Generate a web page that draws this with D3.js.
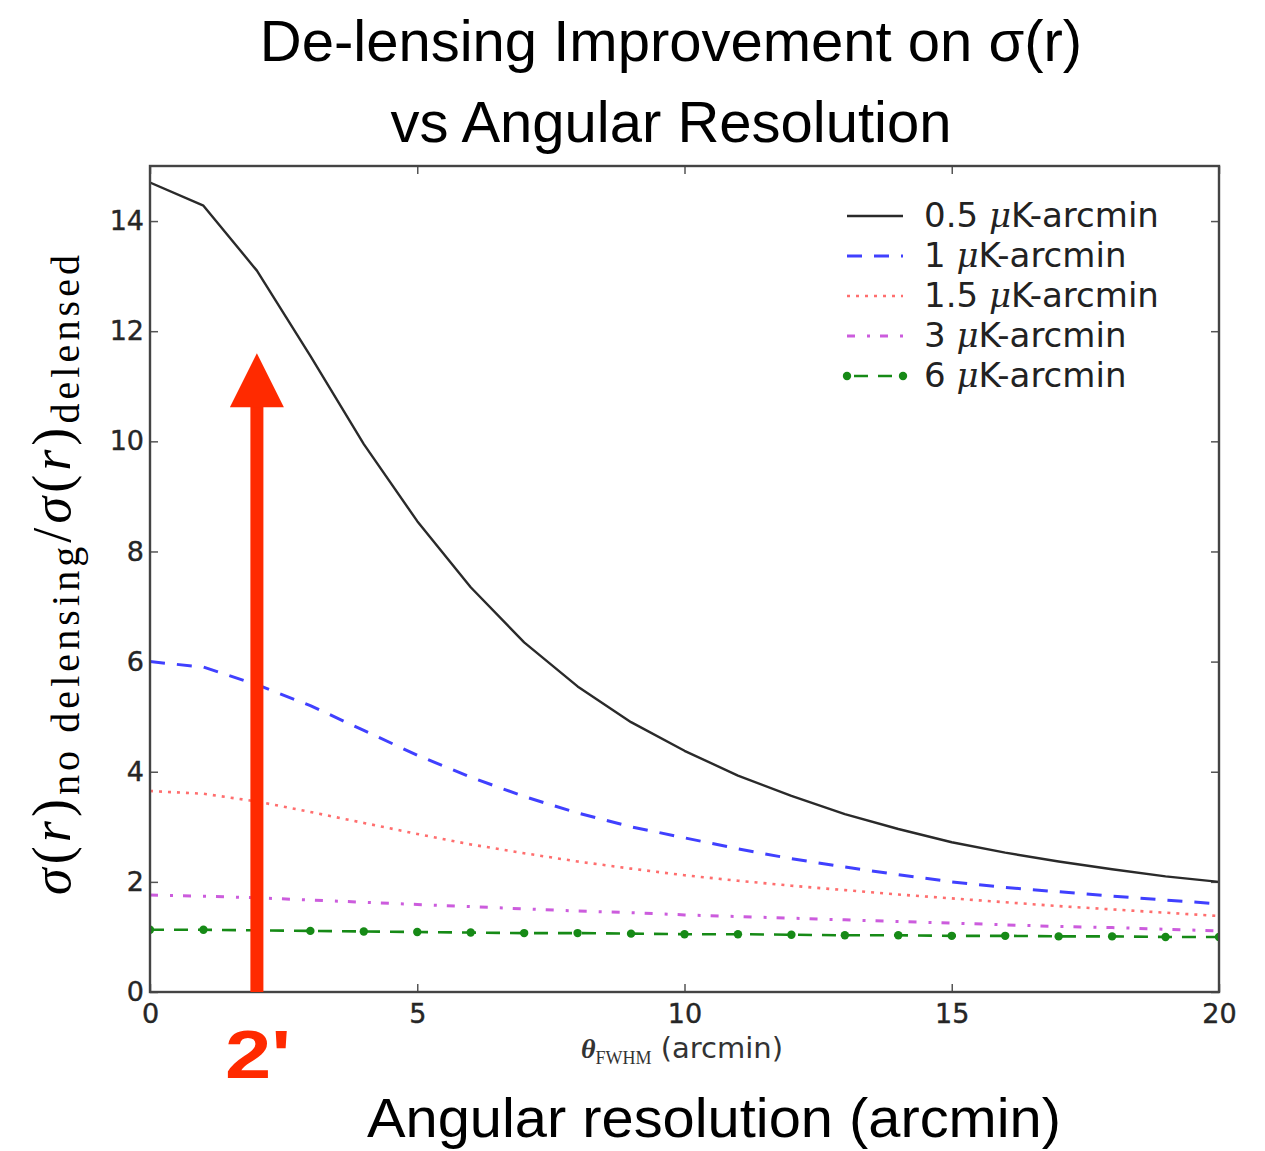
<!DOCTYPE html>
<html>
<head>
<meta charset="utf-8">
<script src="https://cdn.jsdelivr.net/npm/d3@7"></script>
<style>
  html, body { margin: 0; padding: 0; background: #fff; }
  svg { display: block; }
</style>
</head>
<body>
<svg id="chart" width="1265" height="1151"></svg>
<script>
// Beam FWHM in arcmin (x values)
const fwhm = [0, 1, 2, 3, 4, 5, 6, 7, 8, 9, 10, 11, 12, 13, 14, 15, 16, 17, 18, 19, 20];

// sigma(r) improvement factor for each noise level
const noise05 = [14.7, 14.28, 13.1, 11.55, 9.95, 8.55, 7.35, 6.35, 5.55, 4.9, 4.38, 3.93, 3.56, 3.23, 2.96, 2.72, 2.53, 2.37, 2.23, 2.1, 2.0];
const noise1  = [6.0, 5.9, 5.58, 5.2, 4.75, 4.3, 3.9, 3.55, 3.25, 3.0, 2.8, 2.6, 2.42, 2.27, 2.13, 2.0, 1.9, 1.82, 1.74, 1.67, 1.6];
const noise15 = [3.65, 3.6, 3.46, 3.27, 3.07, 2.87, 2.68, 2.52, 2.37, 2.24, 2.12, 2.02, 1.93, 1.85, 1.77, 1.7, 1.63, 1.56, 1.5, 1.44, 1.38];
const noise3  = [1.76, 1.74, 1.71, 1.67, 1.63, 1.59, 1.55, 1.51, 1.47, 1.44, 1.4, 1.37, 1.34, 1.31, 1.28, 1.25, 1.22, 1.19, 1.17, 1.14, 1.11];
const noise6  = [1.13, 1.13, 1.12, 1.11, 1.1, 1.09, 1.08, 1.07, 1.07, 1.06, 1.05, 1.05, 1.04, 1.03, 1.03, 1.02, 1.02, 1.01, 1.01, 1.0, 1.0];

const seriesLabels = ["0.5", "1", "1.5", "3", "6"];
const xTicks = [0, 5, 10, 15, 20];
const yTicks = [0, 2, 4, 6, 8, 10, 12, 14];

// highlighted beam size
const markedFwhm = 2;
const markedLevel = 11.6;

const series = [
  { label: seriesLabels[0], values: noise05, color: "#2a2a2a", width: 2.4, dash: null },
  { label: seriesLabels[1], values: noise1,  color: "#4040ff", width: 3,   dash: "15,12" },
  { label: seriesLabels[2], values: noise15, color: "#ff6e6e", width: 2.6, dash: "3,6" },
  { label: seriesLabels[3], values: noise3,  color: "#cc5cdd", width: 3,   dash: "8,12,3,10" },
  { label: seriesLabels[4], values: noise6,  color: "#168a16", width: 2.6, dash: "14,10", markers: true }
];

const svg = d3.select("#chart");
svg.append("rect").attr("width", 1265).attr("height", 1151).attr("fill", "#fff");

const plotLeft = 150, plotRight = 1219, plotTop = 166, plotBottom = 992;
const x = d3.scaleLinear().domain([0, 20]).range([plotLeft, plotRight]);
const y = d3.scaleLinear().domain([0, 15]).range([plotBottom, plotTop]);

const sansBig = "'Liberation Sans', Arial, Helvetica, sans-serif";
const axisFont = "'DejaVu Sans', Verdana, sans-serif";
const serif = "'Liberation Serif', 'Times New Roman', serif";

// Title
const title = svg.append("g")
  .attr("font-family", sansBig)
  .attr("font-size", 58)
  .attr("fill", "#000")
  .attr("text-anchor", "middle");
title.append("text").attr("x", 671).attr("y", 61).text("De-lensing Improvement on σ(r)");
title.append("text").attr("x", 671).attr("y", 142).text("vs Angular Resolution");

// Clip region for data
svg.append("clipPath").attr("id", "plotClip")
  .append("rect").attr("x", plotLeft).attr("y", plotTop)
  .attr("width", plotRight - plotLeft).attr("height", plotBottom - plotTop);

// Axes with inward ticks on all four sides
const tickColor = "#555";
const gx = svg.append("g").attr("transform", `translate(0,${plotBottom})`)
  .call(d3.axisBottom(x).tickValues(xTicks).tickSize(-8).tickPadding(12).tickFormat(d3.format("d")));
const gy = svg.append("g").attr("transform", `translate(${plotLeft},0)`)
  .call(d3.axisLeft(y).tickValues(yTicks).tickSize(-8).tickPadding(6).tickFormat(d3.format("d")));
const gxt = svg.append("g").attr("transform", `translate(0,${plotTop})`)
  .call(d3.axisTop(x).tickValues(xTicks).tickSize(-8).tickFormat(""));
const gyr = svg.append("g").attr("transform", `translate(${plotRight},0)`)
  .call(d3.axisRight(y).tickValues(yTicks).tickSize(-8).tickFormat(""));

[gx, gy, gxt, gyr].forEach(g => {
  g.select(".domain").remove();
  g.selectAll(".tick line").attr("stroke", tickColor).attr("stroke-width", 1.5);
  g.selectAll(".tick text")
    .attr("font-family", axisFont).attr("font-size", 27)
    .attr("fill", "#262626").attr("stroke", "#262626").attr("stroke-width", 0.4);
});

// Data lines
const plot = svg.append("g").attr("clip-path", "url(#plotClip)");
const line = d3.line().x((d, i) => x(fwhm[i])).y(d => y(d));

series.forEach(s => {
  plot.append("path")
    .attr("d", line(s.values))
    .attr("fill", "none")
    .attr("stroke", s.color)
    .attr("stroke-width", s.width)
    .attr("stroke-dasharray", s.dash)
    .attr("stroke-linejoin", "round");
  if (s.markers) {
    plot.selectAll(null).data(s.values).enter().append("circle")
      .attr("cx", (d, i) => x(fwhm[i]))
      .attr("cy", d => y(d))
      .attr("r", 4.2)
      .attr("fill", s.color);
  }
});

// Frame
svg.append("rect")
  .attr("x", plotLeft).attr("y", plotTop)
  .attr("width", plotRight - plotLeft).attr("height", plotBottom - plotTop)
  .attr("fill", "none").attr("stroke", "#444").attr("stroke-width", 2.4);

// Legend
const legend = svg.append("g");
const legX0 = 847, legX1 = 903, legY0 = 216, legStep = 40;
series.forEach((s, i) => {
  const ly = legY0 + i * legStep;
  legend.append("line")
    .attr("x1", legX0).attr("x2", legX1).attr("y1", ly).attr("y2", ly)
    .attr("stroke", s.color).attr("stroke-width", s.width)
    .attr("stroke-dasharray", s.markers ? "0,7,14,10,14,20" : s.dash);
  if (s.markers) {
    [legX0, legX1].forEach(cx => legend.append("circle").attr("cx", cx).attr("cy", ly).attr("r", 4.2).attr("fill", s.color));
  }
  const t = legend.append("text")
    .attr("x", 924).attr("y", ly + 11)
    .attr("font-family", axisFont).attr("font-size", 34).attr("fill", "#222");
  t.append("tspan").text(s.label + " ");
  t.append("tspan").attr("font-family", "'DejaVu Serif', serif").attr("font-style", "italic").text("μ");
  t.append("tspan").text("K-arcmin");
});

// x-axis label
const xl = svg.append("text")
  .attr("x", 682).attr("y", 1058)
  .attr("text-anchor", "middle")
  .attr("fill", "#333");
xl.append("tspan").attr("font-family", serif).attr("font-style", "italic").attr("font-weight", "bold").attr("font-size", 28).text("θ");
xl.append("tspan").attr("font-family", serif).attr("font-size", 18).attr("dy", 6).text("FWHM");
xl.append("tspan").attr("font-family", axisFont).attr("font-size", 29).attr("dy", -6).text(" (arcmin)");

// y-axis label
const yl = svg.append("text")
  .attr("transform", `translate(70,575) rotate(-90)`)
  .attr("text-anchor", "middle")
  .attr("font-family", serif)
  .attr("fill", "#000")
  .attr("textLength", 640)
  .attr("lengthAdjust", "spacing");
const mainSize = 54, subSize = 40;
yl.append("tspan").attr("font-size", mainSize).attr("font-style", "italic").text("σ");
yl.append("tspan").attr("font-size", mainSize).text("(");
yl.append("tspan").attr("font-size", mainSize).attr("font-style", "italic").text("r");
yl.append("tspan").attr("font-size", mainSize).text(")");
yl.append("tspan").attr("font-size", subSize).attr("dy", 9).text("no delensing");
yl.append("tspan").attr("font-size", mainSize).attr("dy", -9).text("/");
yl.append("tspan").attr("font-size", mainSize).attr("font-style", "italic").text("σ");
yl.append("tspan").attr("font-size", mainSize).text("(");
yl.append("tspan").attr("font-size", mainSize).attr("font-style", "italic").text("r");
yl.append("tspan").attr("font-size", mainSize).text(")");
yl.append("tspan").attr("font-size", subSize).attr("dy", 9).text("delensed");

// Highlight arrow at the marked beam size
const red = "#ff2a00";
const ax = x(markedFwhm);
const tipY = y(markedLevel);
const headH = 54, headW = 54, shaftW = 13;
svg.append("rect")
  .attr("x", ax - shaftW / 2).attr("y", tipY + headH - 1)
  .attr("width", shaftW).attr("height", y(0) - (tipY + headH - 1))
  .attr("fill", red);
svg.append("path")
  .attr("d", `M${ax},${tipY} L${ax + headW / 2},${tipY + headH} L${ax - headW / 2},${tipY + headH} Z`)
  .attr("fill", red);
svg.append("text")
  .attr("x", 225).attr("y", 1078)
  .attr("font-family", sansBig)
  .attr("font-weight", "bold")
  .attr("font-size", 68)
  .attr("fill", red)
  .attr("textLength", 66)
  .attr("lengthAdjust", "spacingAndGlyphs")
  .text("2'");

// Caption below the axis
svg.append("text")
  .attr("x", 714).attr("y", 1137)
  .attr("text-anchor", "middle")
  .attr("font-family", sansBig)
  .attr("font-size", 56)
  .attr("fill", "#000")
  .attr("textLength", 694)
  .attr("lengthAdjust", "spacingAndGlyphs")
  .text("Angular resolution (arcmin)");
</script>
</body>
</html>
